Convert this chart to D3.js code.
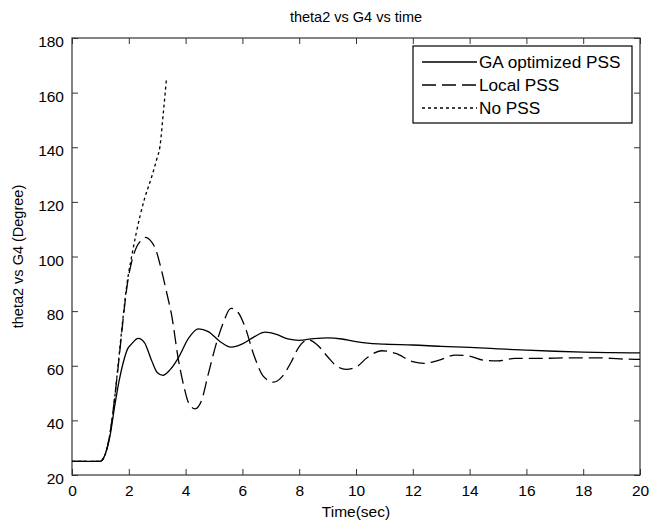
<!DOCTYPE html>
<html><head><meta charset="utf-8">
<script src="https://cdn.jsdelivr.net/npm/d3@7"></script>
<style>body{margin:0;background:#fff}text{font-family:"Liberation Sans",Arial,sans-serif}</style>
</head><body><svg id="c" width="649" height="520"></svg>
<script>
const title = "theta2 vs G4 vs time";
const xLabel = "Time(sec)";
const yLabel = "theta2 vs G4 (Degree)";
const xTicks = [0,2,4,6,8,10,12,14,16,18,20];
const yTicks = [20,40,60,80,100,120,140,160,180];
const seriesNames = ["GA optimized PSS","Local PSS","No PSS"];

const gaT = [0,1.0,1.1,1.2,1.35,1.5,1.65,1.8,1.95,2.1,2.33,2.55,2.8,3.0,3.2,3.45,3.75,4.1,4.45,4.8,5.2,5.6,6.0,6.4,6.8,7.2,7.6,8.0,8.5,9.0,9.5,10.0,10.5,11,12,13,14,15,16,17,18,19,20];
const gaV = [25,25,26,28.5,35,45,54,61,66,68,70,68.5,62,57.5,56.5,58.5,63,70,73.5,72.5,69,66.8,68,70.5,72.3,71.5,69.8,69.3,69.9,70.2,69.8,68.8,68.2,67.9,67.6,67.1,66.7,66.2,65.7,65.3,65.0,64.8,64.7];

const locT = [0,1.0,1.1,1.2,1.35,1.5,1.65,1.8,1.95,2.1,2.3,2.45,2.6,2.75,2.95,3.15,3.35,3.5,3.75,3.95,4.1,4.33,4.55,4.8,5.05,5.3,5.6,5.85,6.1,6.4,6.75,7.1,7.4,7.7,8.0,8.3,8.6,9.0,9.3,9.65,10.0,10.4,10.9,11.4,12.0,12.4,12.9,13.5,14.0,14.5,15.0,15.6,16.5,17.5,18.5,19.3,20];
const locV = [25,25,26,28.5,36,48,62,77,90,98,104,106,107,106,102.5,95,86,79,62,52,46.5,44.2,47,57,67,75,81,79.5,74,64,56,54,56,61,67,69.5,68,63.3,60,58.7,59.5,63,65.5,64.5,61.5,60.9,62,63.9,63.5,62,61.8,62.7,62.7,62.9,62.9,62.5,62.3];

const noT = [0,1.0,1.1,1.2,1.35,1.5,1.65,1.8,1.95,2.1,2.25,2.4,2.55,2.8,2.98,3.1,3.21,3.33];
const noV = [25,25,26,28.5,36,48,63,78,91,100,108,115,121,129,135.5,140.5,152,165.5];

const svg = d3.select("#c");
const L=72, R=640, T=38, B=475;
const x = d3.scaleLinear().domain([0,20]).range([L,R]);
const y = d3.scaleLinear().domain([20,180]).range([B,T]);
const axisCol = "#333";

svg.append("g").attr("transform",`translate(0,${B})`)
  .call(d3.axisBottom(x).tickValues(xTicks).tickSize(-6).tickPadding(10).tickFormat(d3.format("d")))
  .call(g=>{g.select(".domain").remove();g.selectAll("line").attr("stroke",axisCol);
    g.selectAll("text").attr("font-size",15.5).attr("fill","#000").attr("font-family","Liberation Sans, Arial");});
svg.append("g").attr("transform",`translate(0,${T})`)
  .call(d3.axisTop(x).tickValues(xTicks).tickSize(-6).tickFormat(""))
  .call(g=>{g.select(".domain").remove();g.selectAll("line").attr("stroke",axisCol);});
svg.append("g").attr("transform",`translate(${L},0)`)
  .call(d3.axisLeft(y).tickValues(yTicks).tickSize(-6).tickPadding(8).tickFormat(d3.format("d")))
  .call(g=>{g.select(".domain").remove();g.selectAll("line").attr("stroke",axisCol);
    g.selectAll("text").attr("font-size",15.5).attr("fill","#000").attr("dy","0.55em").attr("font-family","Liberation Sans, Arial");});
svg.append("g").attr("transform",`translate(${R},0)`)
  .call(d3.axisRight(y).tickValues(yTicks).tickSize(-6).tickFormat(""))
  .call(g=>{g.select(".domain").remove();g.selectAll("line").attr("stroke",axisCol);});
svg.append("rect").attr("x",L).attr("y",T).attr("width",R-L).attr("height",B-T)
  .attr("fill","none").attr("stroke",axisCol).attr("stroke-width",1.2);

const line = d3.line().x(d=>x(d[0])).y(d=>y(d[1])).curve(d3.curveMonotoneX);
const series = [
  {pts: d3.zip(gaT,gaV), dash: null},
  {pts: d3.zip(locT,locV), dash: "14,6"},
  {pts: d3.zip(noT,noV), dash: "3,3"}
];
svg.append("clipPath").attr("id","cp").append("rect").attr("x",L).attr("y",T).attr("width",R-L).attr("height",B-T);
series.forEach(s=>{
  svg.append("path").attr("d",line(s.pts)).attr("fill","none").attr("stroke","#000")
    .attr("stroke-width",1.3).attr("stroke-dasharray",s.dash).attr("clip-path","url(#cp)");
});

const lg = svg.append("g");
lg.append("rect").attr("x",413).attr("y",46).attr("width",219).attr("height",77)
  .attr("fill","#fff").attr("stroke","#000").attr("stroke-width",1.2);
const rowsY=[62,85,108];
seriesNames.forEach((n,i)=>{
  lg.append("line").attr("x1",422).attr("x2",477).attr("y1",rowsY[i]).attr("y2",rowsY[i])
    .attr("stroke","#000").attr("stroke-width",1.3).attr("stroke-dasharray",series[i].dash);
  lg.append("text").attr("x",479).attr("y",rowsY[i]+6).attr("font-size",17.2).text(n);
});

svg.append("text").attr("x",(L+R)/2).attr("y",22).attr("text-anchor","middle").attr("font-size",14.5).text(title);
svg.append("text").attr("x",(L+R)/2).attr("y",517).attr("text-anchor","middle").attr("font-size",15.5).text(xLabel);
svg.append("text").attr("transform",`translate(23,${(T+B)/2}) rotate(-90)`).attr("text-anchor","middle").attr("font-size",14.5).text(yLabel);
</script></body></html>
